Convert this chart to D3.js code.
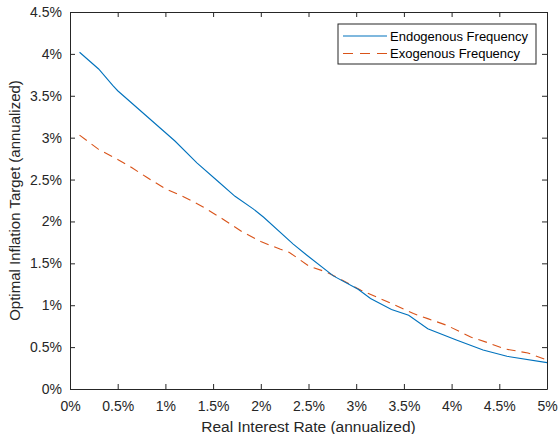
<!DOCTYPE html>
<html>
<head>
<meta charset="utf-8">
<script src="https://cdn.jsdelivr.net/npm/d3@7"></script>
<style>
  html, body { margin: 0; padding: 0; background: #fff; }
  svg { display: block; font-family: "Liberation Sans", Arial, Helvetica, sans-serif; }
</style>
</head>
<body>
<svg id="chart" width="560" height="434"></svg>
<script>
// Real interest rate (%) and optimal inflation target (%) for each model
const endoRate   = [0.1, 0.3, 0.45, 0.5, 1.1, 1.33, 1.55, 1.73, 1.92, 2.03, 2.34, 2.48, 2.76, 3.02, 3.15, 3.37, 3.55, 3.75, 4.05, 4.33, 4.58, 5.0];
const endoTarget = [4.02, 3.82, 3.62, 3.56, 2.96, 2.70, 2.48, 2.30, 2.15, 2.05, 1.73, 1.60, 1.35, 1.19, 1.08, 0.95, 0.88, 0.72, 0.585, 0.465, 0.39, 0.315];

const exoRate    = [0.1, 0.3, 0.5, 0.65, 0.8, 1.0, 1.2, 1.4, 1.6, 1.8, 2.0, 2.2, 2.3, 2.5, 2.7, 2.85, 3.05, 3.25, 3.45, 3.6, 3.75, 3.95, 4.2, 4.4, 4.55, 4.8, 5.0];
const exoTarget  = [3.03, 2.86, 2.74, 2.64, 2.53, 2.39, 2.29, 2.17, 2.03, 1.88, 1.76, 1.67, 1.63, 1.47, 1.39, 1.30, 1.18, 1.08, 0.98, 0.90, 0.84, 0.76, 0.62, 0.545, 0.48, 0.43, 0.345];

const xTicks = [0, 0.5, 1, 1.5, 2, 2.5, 3, 3.5, 4, 4.5, 5];
const yTicks = [0, 0.5, 1, 1.5, 2, 2.5, 3, 3.5, 4, 4.5];

const seriesNames = ["Endogenous Frequency", "Exogenous Frequency"];

const pct = v => `${v}%`;

const svg = d3.select("#chart");
const plot = { left: 70, right: 547, top: 12, bottom: 389 };
const axisColor = "#262626";
const colors = ["#0072BD", "#D95319"];
const dash = "9,6";

const x = d3.scaleLinear().domain([0, 5]).range([plot.left, plot.right]);
const y = d3.scaleLinear().domain([0, 4.5]).range([plot.bottom, plot.top]);

// Axes on all four sides, ticks pointing inward
const tickLen = 5;
const styleAxis = g => {
  g.selectAll(".domain").attr("stroke", axisColor).attr("stroke-width", 1);
  g.selectAll(".tick line").attr("stroke", axisColor).attr("stroke-width", 1);
  g.selectAll("text").attr("fill", axisColor).style("font-size", "14px")
    .style("font-family", '"Liberation Sans", Arial, sans-serif');
};

svg.append("g")
  .attr("transform", `translate(0,${plot.bottom})`)
  .call(d3.axisBottom(x).tickValues(xTicks).tickFormat(pct).tickSizeInner(-tickLen).tickSizeOuter(0).tickPadding(12))
  .call(styleAxis);

svg.append("g")
  .attr("transform", `translate(0,${plot.top})`)
  .call(d3.axisTop(x).tickValues(xTicks).tickFormat("").tickSizeInner(-tickLen).tickSizeOuter(0))
  .call(styleAxis);

svg.append("g")
  .attr("transform", `translate(${plot.left},0)`)
  .call(d3.axisLeft(y).tickValues(yTicks).tickFormat(pct).tickSizeInner(-tickLen).tickSizeOuter(0).tickPadding(8))
  .call(styleAxis);

svg.append("g")
  .attr("transform", `translate(${plot.right},0)`)
  .call(d3.axisRight(y).tickValues(yTicks).tickFormat("").tickSizeInner(-tickLen).tickSizeOuter(0))
  .call(styleAxis);

// Series lines
const line = d3.line().x(d => x(d[0])).y(d => y(d[1]));
const endo = d3.zip(endoRate, endoTarget);
const exo = d3.zip(exoRate, exoTarget);

svg.append("path")
  .datum(exo)
  .attr("fill", "none")
  .attr("stroke", colors[1])
  .attr("stroke-width", 1.1)
  .attr("stroke-dasharray", dash)
  .attr("d", line);

svg.append("path")
  .datum(endo)
  .attr("fill", "none")
  .attr("stroke", colors[0])
  .attr("stroke-width", 1.1)
  .attr("d", line);

// Axis titles
svg.append("text")
  .attr("x", (plot.left + plot.right) / 2)
  .attr("y", 432)
  .attr("text-anchor", "middle")
  .attr("fill", axisColor)
  .style("font-size", "15.5px")
  .text("Real Interest Rate (annualized)");

svg.append("text")
  .attr("transform", `translate(20,${(plot.top + plot.bottom) / 2}) rotate(-90)`)
  .attr("text-anchor", "middle")
  .attr("fill", axisColor)
  .style("font-size", "15px")
  .text("Optimal Inflation Target (annualized)");

// Legend
const legend = svg.append("g").attr("transform", "translate(338,24)");
legend.append("rect")
  .attr("width", 198).attr("height", 40)
  .attr("fill", "#fff").attr("stroke", axisColor).attr("stroke-width", 1);

seriesNames.forEach((name, i) => {
  const ly = 12 + i * 17.5;
  legend.append("line")
    .attr("x1", 5).attr("x2", 49).attr("y1", ly).attr("y2", ly)
    .attr("stroke", colors[i]).attr("stroke-width", 1.1)
    .attr("stroke-dasharray", i === 1 ? "10,7" : null);
  legend.append("text")
    .attr("x", 52).attr("y", ly).attr("dy", "0.35em")
    .attr("fill", "#000")
    .style("font-size", "13px")
    .text(name);
});
</script>
</body>
</html>
